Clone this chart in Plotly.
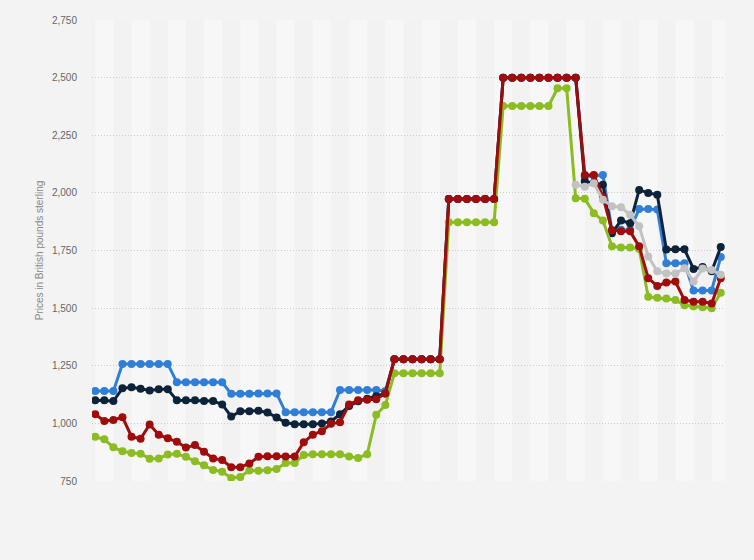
import plotly.graph_objects as go

periods = list(range(70))

blue = [1140, 1140, 1140, 1258, 1258, 1258, 1258, 1258, 1258,
        1178, 1178, 1178, 1178, 1178, 1178, 1128, 1128, 1128, 1130, 1130, 1130,
        1048, 1048, 1048, 1048, 1048, 1048, 1145, 1145, 1145, 1145, 1145, 1140,
        1278, 1278, 1278, 1278, 1278, 1278, 1973, 1973, 1973, 1973, 1973, 1973,
        2500, 2500, 2500, 2500, 2500, 2500, 2500, 2500, 2500,
        2070, 2075, 2078, 1838, 1840, 1840, 1930, 1930, 1928,
        1695, 1695, 1695, 1577, 1577, 1577, 1722]

navy = [1100, 1100, 1097, 1152, 1157, 1150, 1143, 1148, 1148,
        1100, 1100, 1100, 1097, 1097, 1082, 1030, 1053, 1053, 1055, 1047, 1025,
        1003, 996, 996, 996, 1000, 1008, 1040, 1075, 1096, 1107, 1118, 1130,
        1278, 1278, 1278, 1278, 1278, 1278, 1973, 1973, 1973, 1973, 1973, 1973,
        2500, 2500, 2500, 2500, 2500, 2500, 2500, 2500, 2500,
        2050, 2044, 2035, 1825, 1880, 1868, 2013, 2000, 1992,
        1754, 1755, 1755, 1670, 1678, 1660, 1765]

red = [1040, 1010, 1015, 1027, 942, 933, 995, 951, 935, 920,
       895, 906, 877, 848, 841, 810, 810, 826, 855, 857,
       857, 856, 856, 918, 951, 966, 998, 1005, 1082, 1100,
       1103, 1105, 1130,
       1278, 1278, 1278, 1278, 1278, 1278, 1973, 1973, 1973, 1973, 1973, 1973,
       2500, 2500, 2500, 2500, 2500, 2500, 2500, 2500, 2500,
       2078, 2078, 1983, 1838, 1833, 1833, 1768, 1630, 1596,
       1611, 1615, 1535, 1528, 1528, 1520, 1630]

green = [942, 931, 896, 879, 872, 868, 847, 848, 865, 868,
         855, 836, 818, 798, 790, 763, 767, 796, 794, 797,
         802, 828, 828, 863, 866, 866, 866, 866, 856, 850,
         866, 1037, 1080,
         1217, 1217, 1217, 1217, 1217, 1217, 1873, 1873, 1873, 1873, 1873, 1873,
         2377, 2377, 2377, 2377, 2377, 2377, 2454, 2454,
         1977, 1975, 1912, 1880, 1768, 1763, 1763, 1757,
         1549, 1545, 1542, 1535, 1512, 1508, 1504, 1500, 1567]

gray = [None] * 53 + [2035, 2027, 2042, 1970, 1942, 1938, 1905, 1855, 1724,
                      1660, 1650, 1650, 1673, 1615, 1672, 1665, 1645]

y_ticks = [750, 1000, 1250, 1500, 1750, 2000, 2250, 2500, 2750]
y_tick_labels = ["750", "1,000", "1,250", "1,500", "1,750", "2,000", "2,250", "2,500", "2,750"]

series = [
    (blue, "#2f7ed8"),
    (navy, "#0d233a"),
    (green, "#8bbc21"),
    (red, "#a00c0c"),
    (gray, "#c2c2c2"),
]

fig = go.Figure()
for vals, col in series:
    fig.add_trace(go.Scatter(
        x=periods, y=vals, mode="lines+markers",
        line=dict(color=col, width=3),
        marker=dict(color=col, size=8),
        showlegend=False, connectgaps=False,
    ))

shapes = []
for k in range(0, 70, 4):
    shapes.append(dict(type="rect", xref="x", yref="paper", x0=k, x1=k + 2,
                       y0=0, y1=1, fillcolor="#f7f7f7", line=dict(width=0),
                       layer="below"))

fig.update_layout(
    width=754, height=560,
    margin=dict(l=92, r=29, t=20, b=79),
    paper_bgcolor="#f3f3f3",
    plot_bgcolor="#f2f2f2",
    shapes=shapes,
    font=dict(family="Arial, Liberation Sans, sans-serif", size=10, color="#666666"),
    xaxis=dict(range=[-0.36, 69.47], showgrid=False, zeroline=False,
               showticklabels=False, showline=False, ticks=""),
    yaxis=dict(range=[750, 2750], tickvals=y_ticks, ticktext=y_tick_labels,
               showgrid=True, gridcolor="#cccccc", griddash="1px,2px", gridwidth=1,
               zeroline=False, showline=False,
               ticks="outside", ticklen=12, tickcolor="rgba(0,0,0,0)",
               tickfont=dict(size=10, color="#666666"),
               title=dict(text="Prices in British pounds sterling",
                          font=dict(size=10, color="#888888"), standoff=6)),
)

fig.write_html(
    "out.html",
    config={"displayModeBar": False},
    post_script="document.body.style.margin='0';document.body.style.background='#f3f3f3';",
)
